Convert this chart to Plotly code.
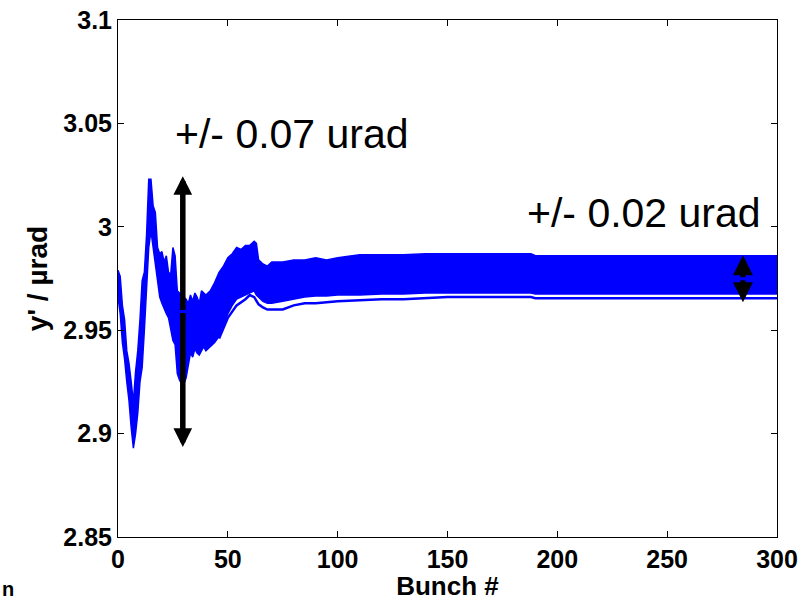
import plotly.graph_objects as go

# ---- data ----
bunch_band = [0, 1, 2, 3, 4, 5, 6, 7, 8, 9, 10, 11, 12, 13, 14, 15, 16, 17, 18, 19,
              20, 21, 22, 23, 24, 25, 26, 27, 28, 29, 30, 31, 32, 33, 34, 35, 36, 37,
              38, 39, 40, 42, 44, 46, 48, 50, 52, 54, 56, 58, 60, 62, 63, 64, 66, 68,
              70, 75, 80, 85, 90, 95, 100, 110, 120, 130, 140, 150, 160, 170, 180,
              188, 190, 200, 250, 300]
band_upper = [2.979, 2.976, 2.962, 2.955, 2.940, 2.934, 2.925, 2.915, 2.930, 2.940,
              2.955, 2.974, 2.978, 2.996, 3.023, 3.023, 3.010, 3.007, 2.990, 2.987,
              2.988, 2.983, 2.986, 2.978, 2.977, 2.990, 2.986, 2.969, 2.968, 2.967,
              2.966, 2.965, 2.963, 2.967, 2.964, 2.968, 2.966, 2.963, 2.969, 2.968,
              2.967, 2.969, 2.973, 2.978, 2.981, 2.985, 2.987, 2.990, 2.989, 2.991,
              2.991, 2.993, 2.992, 2.984, 2.982, 2.981, 2.983, 2.983, 2.984, 2.984,
              2.985, 2.984, 2.985, 2.9865, 2.9865, 2.9865, 2.987, 2.987, 2.987, 2.987,
              2.987, 2.987, 2.986, 2.986, 2.986, 2.986]
band_lower = [2.966, 2.958, 2.944, 2.936, 2.925, 2.916, 2.903, 2.893, 2.900, 2.910,
              2.925, 2.932, 2.950, 2.972, 2.990, 2.998, 2.990, 2.982, 2.972, 2.966,
              2.963, 2.960, 2.958, 2.956, 2.950, 2.945, 2.943, 2.929, 2.926, 2.924,
              2.924, 2.927, 2.933, 2.939, 2.937, 2.941, 2.939, 2.938, 2.940, 2.942,
              2.940, 2.942, 2.944, 2.947, 2.952, 2.958, 2.962, 2.965, 2.966, 2.967,
              2.968, 2.969, 2.967, 2.966, 2.964, 2.963, 2.963, 2.964, 2.965, 2.966,
              2.9665, 2.9665, 2.967, 2.967, 2.9675, 2.9675, 2.968, 2.968, 2.968, 2.968,
              2.968, 2.968, 2.9675, 2.9675, 2.9675, 2.9675]

bunch_low = [46, 50, 54, 58, 60, 62, 64, 66, 68, 70, 75, 80, 85, 90, 95, 100, 110,
             120, 130, 140, 150, 160, 170, 180, 188, 190, 200, 250, 300]
low_line = [2.946, 2.956, 2.962, 2.965, 2.967, 2.966, 2.9625, 2.961, 2.960, 2.960,
            2.960, 2.962, 2.963, 2.963, 2.9635, 2.964, 2.9645, 2.965, 2.965, 2.9655,
            2.966, 2.966, 2.966, 2.966, 2.966, 2.9655, 2.9655, 2.9655, 2.9655]

x_ticks = [0, 50, 100, 150, 200, 250, 300]
y_ticks = [2.85, 2.9, 2.95, 3.0, 3.05, 3.1]
y_tick_text = ["2.85", "2.9", "2.95", "3", "3.05", "3.1"]

# arrows: (bunch, y_top, y_bottom)
big_arrow = (29.5, 3.0245, 2.8935)
small_arrow = (284.5, 2.9862, 2.9635)

BLUE = "#0000FF"
FONT = "Liberation Sans, Arial, sans-serif"

fig = go.Figure()
fig.add_trace(go.Scatter(x=bunch_band, y=band_lower, mode="lines",
                         line=dict(color=BLUE, width=1.5), hoverinfo="skip"))
fig.add_trace(go.Scatter(x=bunch_band, y=band_upper, mode="lines", fill="tonexty",
                         fillcolor=BLUE, line=dict(color=BLUE, width=1.5),
                         hoverinfo="skip"))
fig.add_trace(go.Scatter(x=bunch_low, y=low_line, mode="lines",
                         line=dict(color=BLUE, width=2.5), hoverinfo="skip"))

def add_double_arrow(xv, ytop, ybot, width, size):
    ymid = (ytop + ybot) / 2
    for tip in (ytop, ybot):
        fig.add_annotation(x=xv, y=tip, ax=xv, ay=ymid, xref="x", yref="y",
                           axref="x", ayref="y", text="", showarrow=True,
                           arrowhead=2, arrowsize=size, arrowwidth=width,
                           arrowcolor="black", standoff=0, startstandoff=0)

add_double_arrow(*big_arrow, 5.5, 0.68)
add_double_arrow(*small_arrow, 5, 0.8)

fig.add_annotation(x=79.2, y=3.0449, xref="x", yref="y", text="+/- 0.07 urad",
                   showarrow=False, font=dict(family=FONT, size=41, color="black"),
                   xanchor="center", yanchor="middle")
fig.add_annotation(x=239.4, y=3.0067, xref="x", yref="y", text="+/- 0.02 urad",
                   showarrow=False, font=dict(family=FONT, size=41, color="black"),
                   xanchor="center", yanchor="middle")
fig.add_annotation(x=(0 - 118) / 659, y=(537 - 602) / 517, xref="paper", yref="paper",
                   text="n", showarrow=False, xanchor="left", yanchor="bottom",
                   font=dict(family=FONT, size=20, color="black", weight="bold"))

axis_common = dict(showgrid=False, zeroline=False, showline=True, linecolor="black",
                   linewidth=1, mirror="ticks", ticks="inside", ticklen=6,
                   tickcolor="black", tickwidth=1, automargin=False,
                   tickfont=dict(family=FONT, size=25, color="black", weight="bold"))

fig.update_xaxes(range=[0, 300], tickvals=x_ticks, **axis_common,
                 title=dict(text="Bunch #", standoff=15,
                            font=dict(family=FONT, size=26, color="black", weight="bold")))
fig.update_yaxes(range=[2.85, 3.1], tickvals=y_ticks, ticktext=y_tick_text, **axis_common,
                 title=dict(text="y' / µrad", standoff=7,
                            font=dict(family=FONT, size=28, color="black", weight="bold")))

fig.update_layout(width=810, height=601, margin=dict(l=118, r=33, t=20, b=64),
                  plot_bgcolor="white", paper_bgcolor="white", showlegend=False)

fig.write_html("out.html", config={"displayModeBar": False},
               post_script="document.body.style.margin='0';"
                           "document.body.style.overflow='hidden';")
